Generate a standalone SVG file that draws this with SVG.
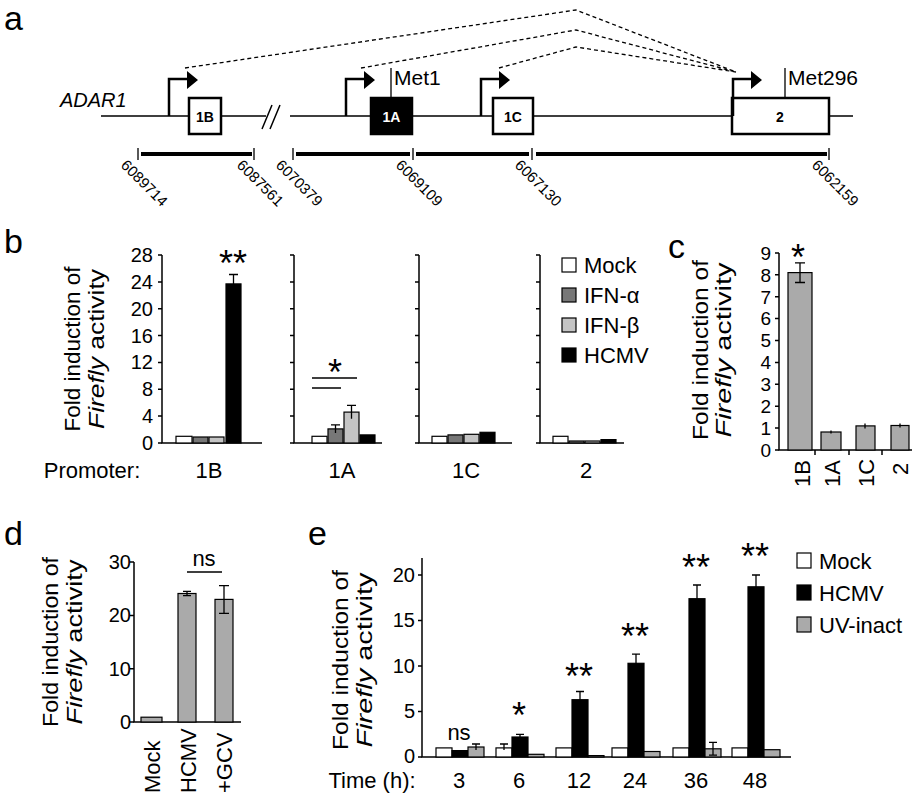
<svg xmlns="http://www.w3.org/2000/svg" width="916" height="800" viewBox="0 0 916 800">
<style>
text{font-family:"Liberation Sans",Arial,sans-serif;fill:#000}
.pl{font-size:34px}
.tk{font-size:20px;text-anchor:end}
.ti{font-size:22px;text-anchor:middle}
.lb{font-size:22px}
.ax{stroke:#000;stroke-width:1.5;fill:none}
.b{stroke:#000;stroke-width:1.2}
.w{fill:#fff}.k{fill:#000}.g1{fill:#777}.g2{fill:#c4c4c4}.g{fill:#aaa}
.e{stroke:#000;stroke-width:1.3;fill:none}
.d{stroke:#000;stroke-width:1.3;stroke-dasharray:4,3;fill:none}
.n{font-size:15px}
.st{font-size:36px;text-anchor:middle}
</style>
<g id="panel-a">
<text class="pl" x="4" y="30">a</text>
<text x="60" y="107" font-size="20" font-style="italic">ADAR1</text>
<path class="ax" d="M101 116H266M290 116H853" stroke-width="2.5"/>
<path d="M262 129L272 105M270 129L280 105" class="ax"/>
<g id="ex1B"><rect x="189" y="98" width="32" height="36" class="w" stroke="#000" stroke-width="2.5"/><text x="205" y="122" font-size="14" font-weight="bold" text-anchor="middle">1B</text></g>
<g id="ex1A"><rect x="371" y="98" width="41" height="36" class="k" stroke="#000" stroke-width="2.5"/><text x="391.5" y="122" font-size="14" font-weight="bold" text-anchor="middle" style="fill:#fff">1A</text></g>
<g id="ex1C"><rect x="493" y="98" width="40" height="36" class="w" stroke="#000" stroke-width="2.5"/><text x="513" y="122" font-size="14" font-weight="bold" text-anchor="middle">1C</text></g>
<g id="ex2"><rect x="732" y="98" width="97" height="36" class="w" stroke="#000" stroke-width="2.5"/><text x="780" y="122" font-size="14" font-weight="bold" text-anchor="middle">2</text></g>
<g stroke="#000" stroke-width="2.5" fill="none">
<path d="M169 116V79H188"/><path d="M346 116V79H365"/><path d="M481 116V79H500"/><path d="M733 116V79H752"/>
</g>
<path d="M187 71L198 80L187 89Z M364 71L375 80L364 89Z M499 71L510 80L499 89Z M751 71L762 80L751 89Z"/>
<path d="M391 98V68M785 98V68" class="e"/>
<text x="394" y="85" font-size="21">Met1</text>
<text x="788" y="85" font-size="21">Met296</text>
<path class="d" d="M185 68L576 10L736 72M361 68L576 30L736 72M499 68L576 47L736 72"/>
<g stroke="#000" stroke-width="4"><path d="M141 154H252M296 154H410M416 154H529M536 154H827"/></g>
<g class="e"><path d="M138 148V160M254 148V160M293 148V160M413 148V160M532 148V160M829 148V160"/></g>
<g class="n">
<text transform="translate(120,166) rotate(45)">6089714</text>
<text transform="translate(236,166) rotate(45)">6087561</text>
<text transform="translate(275,166) rotate(45)">6070379</text>
<text transform="translate(395,166) rotate(45)">6069109</text>
<text transform="translate(514,166) rotate(45)">6067130</text>
<text transform="translate(811,166) rotate(45)">6062159</text>
</g>
</g>
<g id="panel-b">
<text class="pl" x="4" y="253">b</text>
<text transform="translate(80,349) rotate(-90)" class="ti" textLength="165" lengthAdjust="spacingAndGlyphs">Fold induction of</text>
<text transform="translate(104,349) rotate(-90)" class="ti" textLength="160" lengthAdjust="spacingAndGlyphs"><tspan font-style="italic">Firefly</tspan> activity</text>
<g class="tk">
<text x="153" y="450">0</text><text x="153" y="423">4</text><text x="153" y="396">8</text><text x="153" y="369">12</text><text x="153" y="343">16</text><text x="153" y="316">20</text><text x="153" y="289">24</text><text x="153" y="262">28</text>
</g>
<path class="ax" d="M162 255V443H262M294 255V443H382M419 255V443H512M540 255V443H624"/>
<path class="ax" stroke-width="1" d="M158 443h4M158 416.1h4M158 389.3h4M158 362.4h4M158 335.6h4M158 308.7h4M158 281.9h4M158 255h4
M290 443h4M290 416.1h4M290 389.3h4M290 362.4h4M290 335.6h4M290 308.7h4M290 281.9h4M290 255h4
M415 443h4M415 416.1h4M415 389.3h4M415 362.4h4M415 335.6h4M415 308.7h4M415 281.9h4M415 255h4
M536 443h4M536 416.1h4M536 389.3h4M536 362.4h4M536 335.6h4M536 308.7h4M536 281.9h4M536 255h4"/>
<g class="b">
<rect x="176" y="436.3" width="16" height="6.7" class="w"/><rect x="193" y="437" width="15" height="6" class="g1"/><rect x="209" y="437" width="15" height="6" class="g2"/><rect x="226" y="283.9" width="15" height="159.1" class="k"/>
<rect x="312" y="436.3" width="15" height="6.7" class="w"/><rect x="328" y="428.9" width="15" height="14.1" class="g1"/><rect x="344" y="412.1" width="15" height="30.9" class="g2"/><rect x="360" y="434.9" width="15" height="8.1" class="k"/>
<rect x="432" y="436.3" width="15" height="6.7" class="w"/><rect x="448" y="434.9" width="15" height="8.1" class="g1"/><rect x="464" y="434.3" width="15" height="8.7" class="g2"/><rect x="480" y="432.3" width="15" height="10.7" class="k"/>
<rect x="553" y="436.3" width="15" height="6.7" class="w"/><rect x="569" y="441" width="15" height="2" class="g1"/><rect x="585" y="441" width="15" height="2" class="g2"/><rect x="601" y="439.6" width="15" height="3.4" class="k"/>
</g>
<path class="e" d="M233.5 274.5V293.3M229 274.5h9M335.5 424.9V432.9M331 424.9h9M351.5 405.4V418.8M347 405.4h9"/>
<path class="e" d="M312 378H357M312 388H341"/>
<text class="st" x="233" y="276">**</text>
<text class="st" x="335" y="385">*</text>
<g id="legend-b">
<rect x="562" y="258" width="14" height="14" class="w b"/><text class="lb" x="584" y="273">Mock</text>
<rect x="562" y="288" width="14" height="14" class="g1 b"/><text class="lb" x="584" y="303">IFN-α</text>
<rect x="562" y="318" width="14" height="14" class="g2 b"/><text class="lb" x="584" y="333">IFN-β</text>
<rect x="562" y="348" width="14" height="14" class="k b"/><text class="lb" x="584" y="363">HCMV</text>
</g>
<g font-size="22" text-anchor="middle">
<text x="92" y="478">Promoter:</text><text x="209" y="478">1B</text><text x="342" y="478">1A</text><text x="466" y="478">1C</text><text x="586" y="478">2</text>
</g>
</g>
<g id="panel-c">
<text class="pl" x="668" y="258">c</text>
<text transform="translate(708,350) rotate(-90)" class="ti" textLength="180" lengthAdjust="spacingAndGlyphs">Fold induction of</text>
<text transform="translate(731,350) rotate(-90)" class="ti" textLength="175" lengthAdjust="spacingAndGlyphs"><tspan font-style="italic">Firefly</tspan> activity</text>
<g class="tk" style="font-size:19px"><text x="771" y="457">0</text><text x="771" y="435">1</text><text x="771" y="413">2</text><text x="771" y="391">3</text><text x="771" y="369">4</text><text x="771" y="347">5</text><text x="771" y="325">6</text><text x="771" y="304">7</text><text x="771" y="282">8</text><text x="771" y="260">9</text></g>
<path class="ax" d="M779 253V450H912"/>
<path class="ax" stroke-width="1" d="M775 450h4M775 428.1h4M775 406.2h4M775 384.3h4M775 362.4h4M775 340.5h4M775 318.6h4M775 296.7h4M775 274.8h4M775 253h4M815 450v5M849 450v5M882 450v5"/>
<g class="b g"><rect x="788" y="272.6" width="24" height="177.4"/><rect x="821" y="432" width="20" height="18"/><rect x="856" y="425.9" width="19" height="24.1"/><rect x="891" y="425.5" width="18" height="24.5"/></g>
<path class="e" d="M800 262.8V282.5M795 262.8h10M795 282.5h10M831 430.5v3M865 423.5v5M900 423.5v4"/>
<text class="st" x="798" y="270" font-size="46">*</text>
<g font-size="22"><text transform="translate(810,487) rotate(-90)">1B</text><text transform="translate(840,487) rotate(-90)">1A</text><text transform="translate(874,487) rotate(-90)">1C</text><text transform="translate(908,475) rotate(-90)">2</text></g>
</g>
<g id="panel-d">
<text class="pl" x="4" y="545">d</text>
<text transform="translate(58,642) rotate(-90)" class="ti" textLength="170" lengthAdjust="spacingAndGlyphs">Fold induction of</text>
<text transform="translate(82,642) rotate(-90)" class="ti" textLength="165" lengthAdjust="spacingAndGlyphs"><tspan font-style="italic">Firefly</tspan> activity</text>
<g class="tk"><text x="131" y="729">0</text><text x="131" y="676">10</text><text x="131" y="622">20</text><text x="131" y="569">30</text></g>
<path class="ax" d="M134 562V722H241"/>
<path class="ax" stroke-width="1" d="M130 722h4M130 668.7h4M130 615.4h4M130 562h4"/>
<g class="b g"><rect x="141" y="717.2" width="21" height="4.8"/><rect x="178" y="593.5" width="18" height="128.5"/><rect x="215" y="599.4" width="18" height="122.6"/></g>
<path class="e" d="M187 591.4V595.7M183 591.4h8M183 595.7h8M224 585.6V613.3M219 585.6h10M219 613.3h10M187 572H222"/>
<text x="204" y="566" font-size="22" text-anchor="middle">ns</text>
<g font-size="22"><text transform="translate(160,793) rotate(-90)">Mock</text><text transform="translate(196,793) rotate(-90)">HCMV</text><text transform="translate(232,793) rotate(-90)">+GCV</text></g>
</g>
<g id="panel-e">
<text class="pl" x="308" y="545">e</text>
<text transform="translate(348,660) rotate(-90)" class="ti" textLength="180" lengthAdjust="spacingAndGlyphs">Fold induction of</text>
<text transform="translate(372,660) rotate(-90)" class="ti" textLength="175" lengthAdjust="spacingAndGlyphs"><tspan font-style="italic">Firefly</tspan> activity</text>
<g class="tk"><text x="415" y="763">0</text><text x="415" y="718">5</text><text x="415" y="673">10</text><text x="415" y="627">15</text><text x="415" y="582">20</text></g>
<path class="ax" d="M422 558V757H791"/>
<path class="ax" stroke-width="1" d="M418 757h4M418 711.5h4M418 666h4M418 620.5h4M418 575h4"/>
<g class="b">
<rect x="436" y="747.9" width="16" height="9.1" class="w"/><rect x="452" y="750.6" width="16" height="6.4" class="k"/><rect x="468" y="747" width="16" height="10" class="g"/>
<rect x="496" y="747.9" width="16" height="9.1" class="w"/><rect x="512" y="737" width="16" height="20" class="k"/><rect x="528" y="754.3" width="16" height="2.7" class="g"/>
<rect x="556" y="747.9" width="16" height="9.1" class="w"/><rect x="572" y="699.7" width="16" height="57.3" class="k"/><rect x="588" y="755.6" width="16" height="1.4" class="g"/>
<rect x="612" y="747.9" width="16" height="9.1" class="w"/><rect x="628" y="663.3" width="16" height="93.7" class="k"/><rect x="644" y="751.5" width="16" height="5.5" class="g"/>
<rect x="673" y="747.9" width="16" height="9.1" class="w"/><rect x="689" y="598.7" width="16" height="158.3" class="k"/><rect x="705" y="748.8" width="16" height="8.2" class="g"/>
<rect x="732" y="747.9" width="16" height="9.1" class="w"/><rect x="748" y="586.8" width="16" height="170.2" class="k"/><rect x="764" y="749.7" width="16" height="7.3" class="g"/>
</g>
<path class="e" d="M520 734.3V739.7M516 734.3h8M580 691.5V707.9M576 691.5h8M636 654.2V672.4M632 654.2h8M697 585V612.3M693 585h8M693 612.3h8M756 575V598.7M752 575h8M713 742.4V755.2M709 742.4h8M709 755.2h8M504 744v6M500 744h8M476 744v6M472 744h8"/>
<text x="459" y="740" font-size="22" text-anchor="middle">ns</text>
<text class="st" x="519" y="728">*</text>
<text class="st" x="579" y="689">**</text>
<text class="st" x="635" y="649">**</text>
<text class="st" x="696" y="580">**</text>
<text class="st" x="755" y="569">**</text>
<g id="legend-e">
<rect x="797" y="553" width="14" height="15" class="w b"/><text class="lb" x="819" y="569">Mock</text>
<rect x="797" y="585" width="14" height="15" class="k b"/><text class="lb" x="819" y="601">HCMV</text>
<rect x="797" y="617" width="14" height="15" class="g b"/><text class="lb" x="819" y="633">UV-inact</text>
</g>
<g font-size="22" text-anchor="middle">
<text x="372" y="788">Time (h):</text><text x="459" y="788">3</text><text x="519" y="788">6</text><text x="579" y="788">12</text><text x="635" y="788">24</text><text x="696" y="788">36</text><text x="755" y="788">48</text>
</g>
</g>
</svg>
